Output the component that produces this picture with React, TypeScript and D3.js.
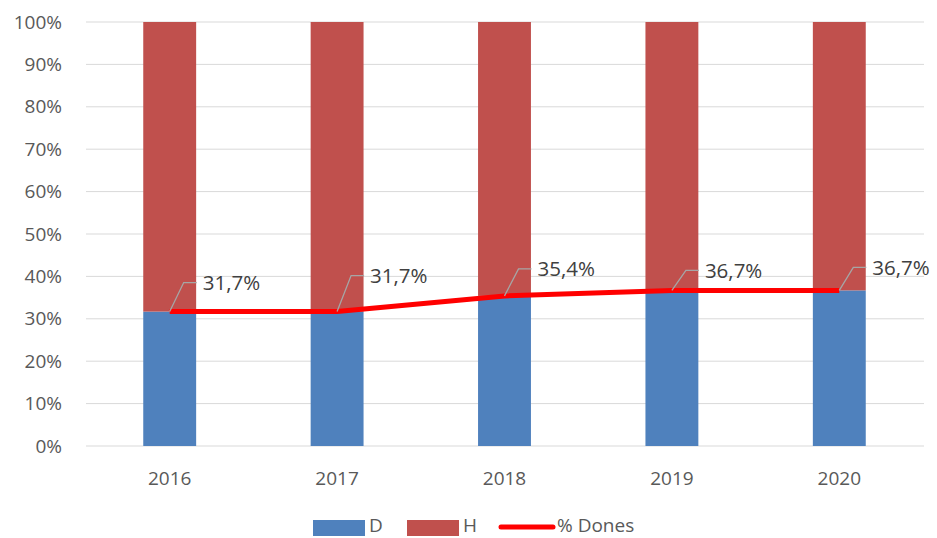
import React from "react";
import * as d3 from "d3";

const years = ["2016", "2017", "2018", "2019", "2020"];
const dValues = [31.7, 31.7, 35.4, 36.7, 36.7];
const hValues = [68.3, 68.3, 64.6, 63.3, 63.3];
const doneLabels = ["31,7%", "31,7%", "35,4%", "36,7%", "36,7%"];
const yTicks = [0, 10, 20, 30, 40, 50, 60, 70, 80, 90, 100];
// how far above the point each data label sits (px)
const labelLift = [29, 36, 27, 20, 23];

const layout = { width: 937, height: 538, left: 86, right: 923, top: 22, bottom: 446 };
const font = "'Open Sans', 'Liberation Sans', sans-serif";
const textColor = "#595959";

export default function App() {
  const x = d3.scaleBand().domain(years).range([layout.left, layout.right]).paddingInner(0.684).paddingOuter(0.342);
  const y = d3.scaleLinear().domain([0, 100]).range([layout.bottom, layout.top]);
  const cx = (yr: string) => (x(yr) as number) + x.bandwidth() / 2;

  const line = d3.line<number>()
    .x((_, i) => cx(years[i]))
    .y(d => y(d));

  return (
    <svg width={layout.width} height={layout.height}
      style={{ position: "absolute", left: 0, top: 0, background: "#fff" }}
      fontFamily={font}>
      {yTicks.map(t => (
        <g key={t}>
          <line x1={layout.left} x2={layout.right + 1} y1={y(t)} y2={y(t)} stroke="#d9d9d9" strokeWidth={1} />
          <text x={62} y={y(t)} dy="0.35em" textAnchor="end" fontSize={19} fill={textColor}>{t}%</text>
        </g>
      ))}
      {years.map((yr, i) => (
        <g key={yr}>
          <rect x={x(yr)} width={x.bandwidth()} y={y(dValues[i])} height={y(0) - y(dValues[i])} fill="#4f81bd" />
          <rect x={x(yr)} width={x.bandwidth()} y={y(dValues[i] + hValues[i])}
            height={y(dValues[i]) - y(dValues[i] + hValues[i])} fill="#c0504d" />
          <text x={cx(yr)} y={478} dy="0.35em" textAnchor="middle" fontSize={19} fill={textColor}>{yr}</text>
        </g>
      ))}
      <path d={line(dValues) || ""} fill="none" stroke="#ff0000" strokeWidth={5} strokeLinejoin="round" />
      {years.map((yr, i) => {
        const px = cx(yr);
        const py = y(dValues[i]);
        const ly = py - labelLift[i];
        return (
          <g key={"lbl" + yr}>
            <polyline points={`${px},${py} ${px + 14},${ly} ${px + 27},${ly}`} fill="none" stroke="#a6a6a6" strokeWidth={1.3} />
            <text x={px + 33} y={ly} dy="0.35em" fontSize={20.5} fill="#404040">{doneLabels[i]}</text>
          </g>
        );
      })}
      <g fontSize={19} fill={textColor}>
        <rect x={313} y={520} width={52} height={16} fill="#4f81bd" />
        <text x={369} y={532}>D</text>
        <rect x={407} y={520} width={52} height={16} fill="#c0504d" />
        <text x={463} y={532}>H</text>
        <line x1={501} x2={553} y1={527} y2={527} stroke="#ff0000" strokeWidth={5} strokeLinecap="round" />
        <text x={557} y={532}>% Dones</text>
      </g>
    </svg>
  );
}
